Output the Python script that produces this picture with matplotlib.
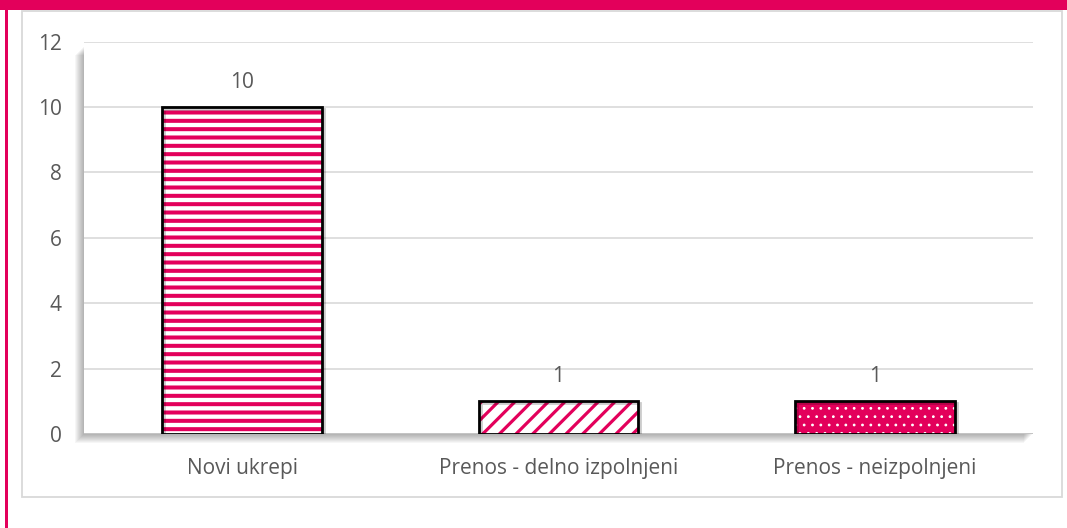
import matplotlib
matplotlib.use("Agg")
import matplotlib.pyplot as plt
from matplotlib.patches import Rectangle
import matplotlib.patheffects as pe

categories = ["Novi ukrepi", "Prenos - delno izpolnjeni", "Prenos - neizpolnjeni"]
values = [10, 1, 1]
y_ticks = [0, 2, 4, 6, 8, 10, 12]

MAGENTA = "#E3005B"
TEXT = "#595959"
GRID = "#D9D9D9"
FS = 15

plt.rcParams["font.family"] = ["Open Sans", "DejaVu Sans"]

fig = plt.figure(figsize=(10.67, 5.28), dpi=100)
W, H = 1067, 528

def fx(px):
    return px / W

def fy(py):
    return 1 - py / H

# page decoration: top band and left rule
fig.patches.append(Rectangle((0, fy(10)), 1, 10 / H, transform=fig.transFigure,
                             facecolor=MAGENTA, edgecolor="none", zorder=0))
fig.patches.append(Rectangle((fx(5), 0), 3 / W, 1, transform=fig.transFigure,
                             facecolor=MAGENTA, edgecolor="none", zorder=0))
# chart frame
fig.patches.append(Rectangle((fx(22), fy(497)), (1062 - 22) / W, (497 - 11) / H,
                             transform=fig.transFigure, facecolor="white",
                             edgecolor=GRID, linewidth=1.3, zorder=0))

ax_left, ax_right, ax_top, ax_bottom = 84, 1033, 41.5, 434
aw, ah = (ax_right - ax_left) / W, (ax_bottom - ax_top) / H
ax = fig.add_axes([fx(ax_left), fy(ax_bottom), aw, ah])
ax.set_zorder(2)

# soft shadow behind the plot area, cast to the lower left
for d in range(1, 10):
    fig.patches.append(Rectangle((fx(ax_left - d), fy(ax_bottom + d)), aw,
                                 ah - 4 / H, transform=fig.transFigure,
                                 facecolor="black", edgecolor="none",
                                 alpha=0.035, zorder=0.5))
fig.patches.append(Rectangle((fx(ax_left), fy(ax_bottom)), aw, ah,
                             transform=fig.transFigure, facecolor="white",
                             edgecolor="none", zorder=0.6))
ax.set_facecolor("none")

x = list(range(len(categories)))
bar_w = 0.505

styles = [
    dict(face="white", hatch="--", hcolor=MAGENTA, hlw=2.9),
    dict(face="white", hatch="//", hcolor=MAGENTA, hlw=2.3),
    dict(face=MAGENTA, hatch="..", hcolor="white", hlw=0.8),
]

for xi, v, st in zip(x, values, styles):
    with plt.rc_context({"hatch.linewidth": st["hlw"]}):
        bars = ax.bar(xi, v, width=bar_w, facecolor=st["face"], edgecolor=st["hcolor"],
                      hatch=st["hatch"], linewidth=0, zorder=3)
    for b in bars:
        if hasattr(b, "set_hatch_linewidth"):
            b.set_hatch_linewidth(st["hlw"])
    outline = ax.bar(xi, v, width=bar_w, fill=False, edgecolor="black",
                     linewidth=2, zorder=4)
    for b in outline:
        b.set_path_effects([pe.SimpleLineShadow(offset=(1.5, -1.5), alpha=0.2,
                                                shadow_color="black"),
                            pe.Normal()])
    ax.annotate(f"{v}", (xi, v), xytext=(0, 10), textcoords="offset points",
                ha="center", va="bottom", fontsize=FS, color=TEXT)

ax.set_xlim(-0.5, 2.5)
ax.set_ylim(0, 12)
ax.set_yticks(y_ticks)
ax.set_yticklabels([str(t) for t in y_ticks])
ax.set_xticks(x)
ax.set_xticklabels(categories)
ax.tick_params(axis="y", length=0, pad=16, labelsize=FS, labelcolor=TEXT)
ax.tick_params(axis="x", length=0, pad=17, labelsize=FS, labelcolor=TEXT)
ax.yaxis.grid(True, color=GRID, linewidth=1.2, zorder=1)
ax.set_axisbelow(True)
for s in ax.spines.values():
    s.set_visible(False)
ax.axhline(0, color="#BFBFBF", linewidth=1.2, zorder=2)

fig.savefig("out.png", dpi=100)
